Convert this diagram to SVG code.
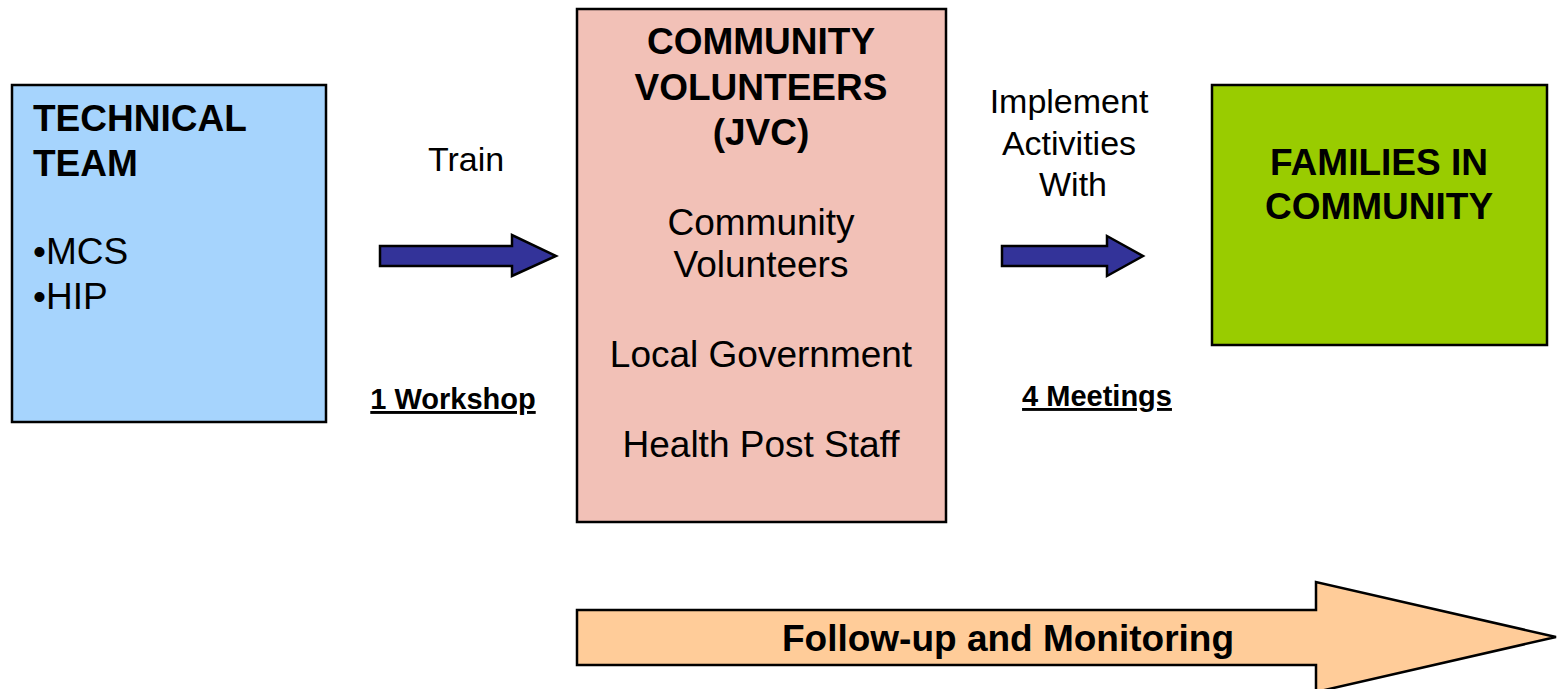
<svg xmlns="http://www.w3.org/2000/svg" width="1557" height="689" viewBox="0 0 1557 689">
<style>
.box{stroke:#000;stroke-width:2.5}
.t{font-family:"Liberation Sans",Arial,sans-serif;fill:#000}
.b{font-weight:bold}
.c{text-anchor:middle}
.arr{fill:#333399;stroke:#000;stroke-width:2.5;stroke-linejoin:miter}
</style>
<rect width="1557" height="689" fill="#fff"/>
<g id="technical-team">
<rect class="box" x="12" y="85" width="314" height="337" fill="#a6d4fd"/>
<text class="t b" x="33" y="131" font-size="37">TECHNICAL</text>
<text class="t b" x="33" y="176" font-size="37">TEAM</text>
<text class="t" x="33" y="264" font-size="37">•MCS</text>
<text class="t" x="33" y="309" font-size="37">•HIP</text>
</g>
<g id="community-volunteers">
<rect class="box" x="577" y="9" width="369" height="513" fill="#f2c1b7"/>
<text class="t b c" x="761" y="54" font-size="37">COMMUNITY</text>
<text class="t b c" x="761" y="100" font-size="37">VOLUNTEERS</text>
<text class="t b c" x="761" y="145" font-size="37">(JVC)</text>
<text class="t c" x="761" y="235" font-size="37">Community</text>
<text class="t c" x="761" y="277" font-size="37">Volunteers</text>
<text class="t c" x="761" y="367" font-size="37">Local Government</text>
<text class="t c" x="761" y="457" font-size="37">Health Post Staff</text>
</g>
<g id="families">
<rect class="box" x="1212" y="85" width="335" height="260" fill="#99cc00"/>
<text class="t b c" x="1379" y="175" font-size="37">FAMILIES IN</text>
<text class="t b c" x="1379" y="219" font-size="37">COMMUNITY</text>
</g>
<g id="follow-up">
<polygon points="577,610 1316,610 1316,582 1556,637 1316,692 1316,665 577,665" fill="#ffcc99" stroke="#000" stroke-width="2.5"/>
<text class="t b c" x="1008" y="651" font-size="37">Follow-up and Monitoring</text>
</g>
<g id="connectors">
<polygon class="arr" points="380,246 512,246 512,235 556,256 512,276 512,266 380,266"/>
<polygon class="arr" points="1002,246 1107,246 1107,236 1143,256 1107,276 1107,266 1002,266"/>
<text class="t c" x="466" y="171" font-size="34">Train</text>
<text class="t b c" x="453" y="409" font-size="29" text-decoration="underline">1 Workshop</text>
<text class="t c" x="1069" y="113" font-size="34">Implement</text>
<text class="t c" x="1069" y="155" font-size="34">Activities</text>
<text class="t c" x="1073" y="196" font-size="34">With</text>
<text class="t b c" x="1097" y="406" font-size="29" text-decoration="underline">4 Meetings</text>
</g>
</svg>
